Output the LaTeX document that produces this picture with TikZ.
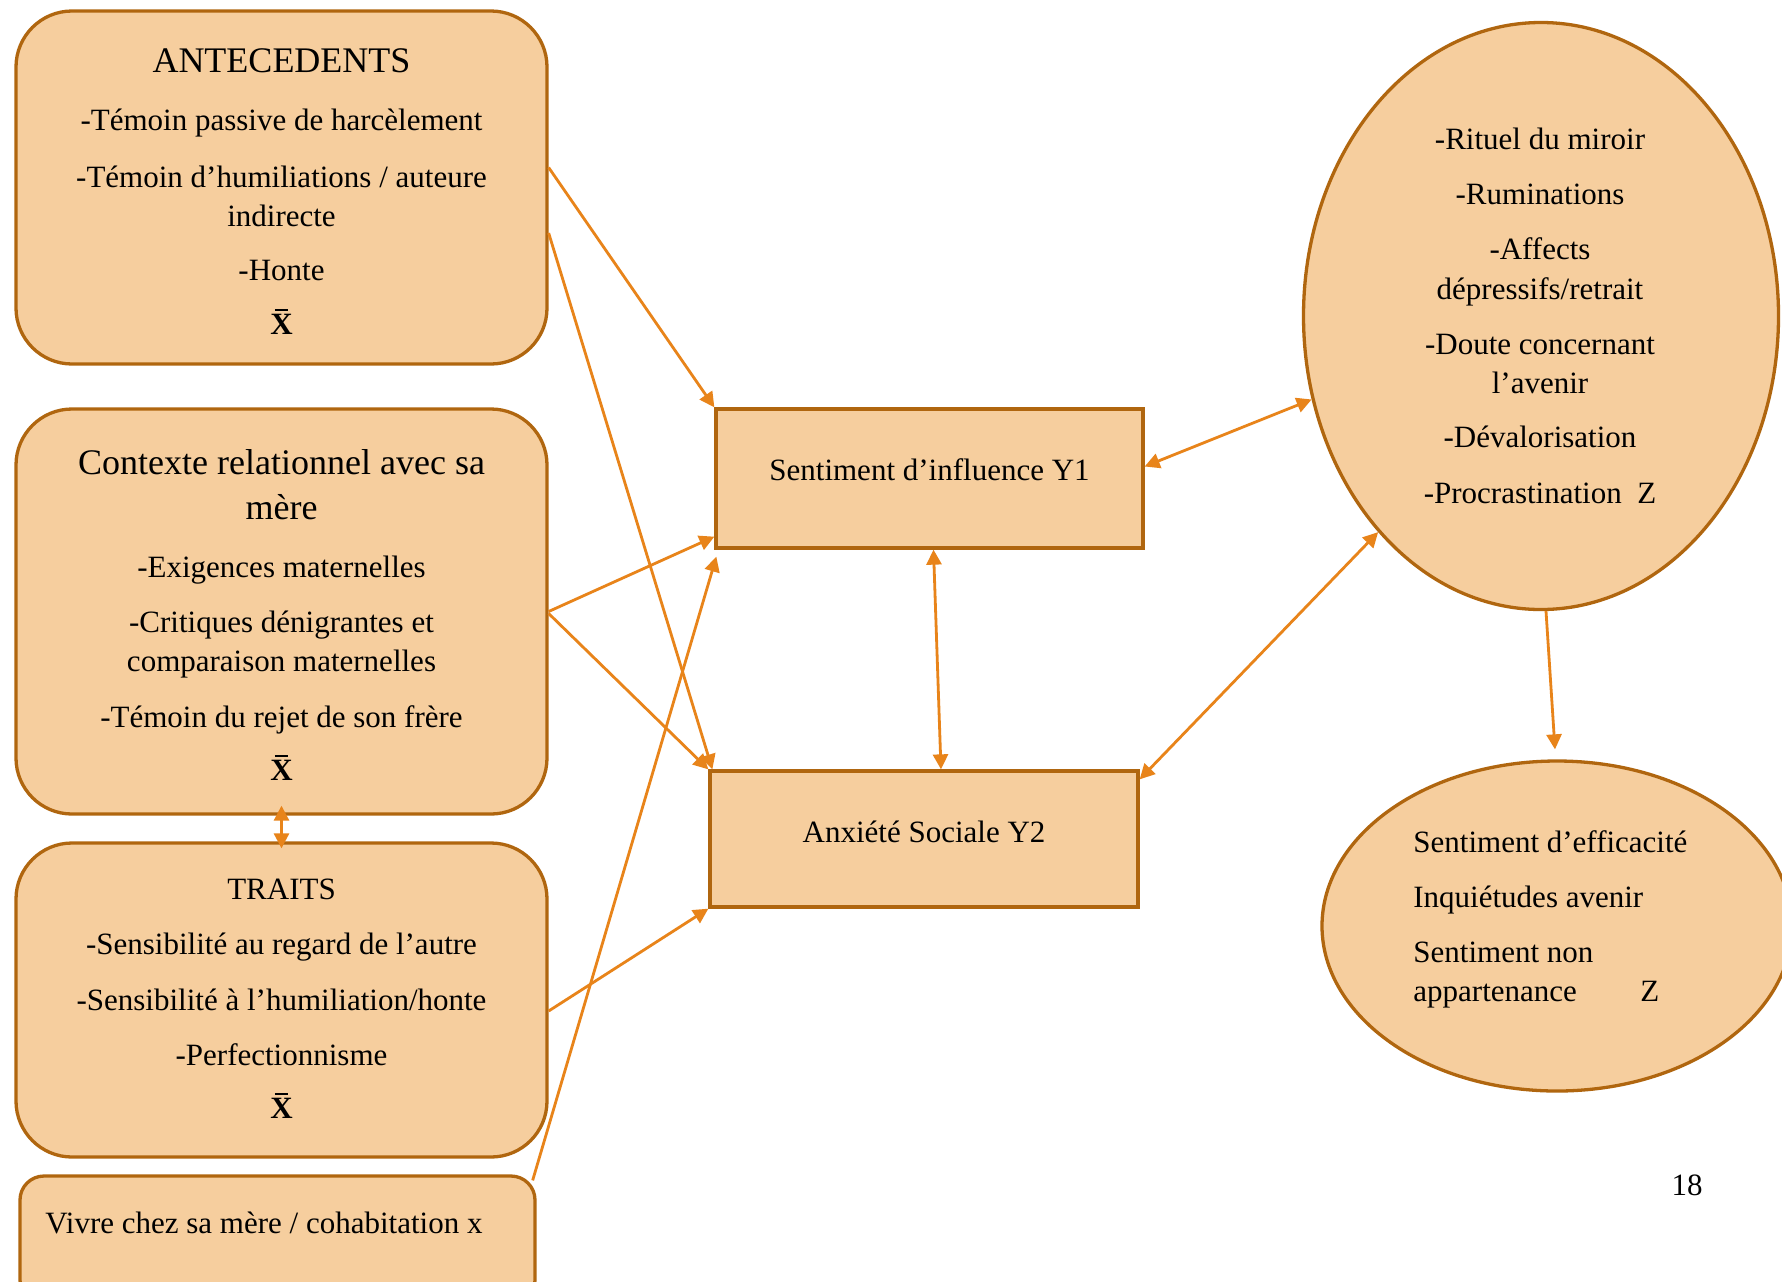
\documentclass[tikz,border=0pt]{standalone}
\usepackage{fontspec}
\setmainfont{Liberation Serif}
\usetikzlibrary{arrows.meta,shapes.geometric}
\definecolor{fillc}{HTML}{F6CE9E}
\definecolor{edgec}{HTML}{B0660F}
\definecolor{arrc}{HTML}{E8841A}
\newcommand\bodyf{\fontsize{15.5}{19.5}\selectfont}
\newcommand\titlef{\fontsize{18}{22.5}\selectfont}
\newcommand\xbar{\textbf{\ooalign{X\cr\hidewidth\rule[0.74em]{0.42em}{0.07em}\hidewidth\cr}}}
\begin{document}
\begin{tikzpicture}[x=0.5pt,y=-0.5pt,
  rbox/.style={draw=edgec,fill=fillc,line width=1.65pt,rounded corners=28pt,inner sep=0},
  sbox/.style={draw=edgec,fill=fillc,line width=1.65pt,inner sep=0},
  oval/.style={ellipse,draw=edgec,fill=fillc,line width=1.65pt,inner sep=0},
  txt/.style={anchor=base,inner sep=0,font=\bodyf},
  ltxt/.style={anchor=base west,inner sep=0,font=\bodyf},
  ttl/.style={anchor=base,inner sep=0,font=\titlef},
  conn/.style={draw=arrc,line width=1.4pt},
  >={Triangle[length=7.5pt,width=7.5pt]}]
\useasboundingbox (0,0) rectangle (1782,1281);
\clip (0,0) rectangle (1782,1281);
\fill[white] (0,0) rectangle (1782,1281);
% boxes
\node[rbox,minimum width=265.5pt,minimum height=176.5pt] (ante) at (281.5,187.5) {};
\node[rbox,minimum width=265.5pt,minimum height=202.5pt] (ctx) at (281.5,611.5) {};
\node[rbox,minimum width=265.5pt,minimum height=157pt] (traits) at (281.5,1000) {};
\node[rbox,rounded corners=12pt,minimum width=257.5pt,minimum height=64pt] (live) at (277.5,1240) {};
\node[sbox,minimum width=213.5pt,minimum height=69.5pt] (y1) at (929.5,478.5) {};
\node[sbox,minimum width=214pt,minimum height=68pt] (y2) at (924,839) {};
\node[oval,minimum width=237.5pt,minimum height=293.5pt] (ell1) at (1541,316) {};
\node[oval,minimum width=235pt,minimum height=165pt] (ell2) at (1557,926) {};
% texts: antecedents
\node[ttl] (a0) at (281.5,72) {ANTECEDENTS};
\node[txt] (a1) at (281.5,130) {-Témoin passive de harcèlement};
\node[txt] (a2) at (281.5,187) {-Témoin d’humiliations / auteure};
\node[txt] (a3) at (281.5,226) {indirecte};
\node[txt] (a4) at (281.5,280) {-Honte};
\node[txt] (a5) at (281.5,334) {\xbar};
% contexte
\node[ttl] (c0) at (281.5,474) {Contexte relationnel avec sa};
\node[ttl] (c1) at (281.5,519) {mère};
\node[txt] (c2) at (281.5,577) {-Exigences maternelles};
\node[txt] (c3) at (281.5,632) {-Critiques dénigrantes et};
\node[txt] (c4) at (281.5,671) {comparaison maternelles};
\node[txt] (c5) at (281.5,727) {-Témoin du rejet de son frère};
\node[txt] (c6) at (281.5,780) {\xbar};
% traits
\node[txt] (t0) at (281.5,899) {TRAITS};
\node[txt] (t1) at (281.5,954) {-Sensibilité au regard de l’autre};
\node[txt] (t2) at (281.5,1010) {-Sensibilité à l’humiliation/honte};
\node[txt] (t3) at (281.5,1065) {-Perfectionnisme};
\node[txt] (t4) at (281.5,1118) {\xbar};
% live
\node[ltxt] (l0) at (45,1233) {Vivre chez sa mère / cohabitation x};
% Y1 Y2
\node[txt] (y1t) at (929.5,480) {Sentiment d’influence Y1};
\node[txt] (y2t) at (924,842) {Anxiété Sociale Y2};
% ellipse 1
\node[txt] (e1) at (1540,149) {-Rituel du miroir};
\node[txt] (e2) at (1540,204) {-Ruminations};
\node[txt] (e3) at (1540,259) {-Affects};
\node[txt] (e4) at (1540,299) {dépressifs/retrait};
\node[txt] (e5) at (1540,354) {-Doute concernant};
\node[txt] (e6) at (1540,393) {l’avenir};
\node[txt] (e7) at (1540,447) {-Dévalorisation};
\node[txt] (e8) at (1540,503) {-Procrastination\ \ Z};
% ellipse 2
\node[ltxt] (f1) at (1413,852) {Sentiment d’efficacité};
\node[ltxt] (f2) at (1413,907) {Inquiétudes avenir};
\node[ltxt] (f3) at (1413,962) {Sentiment non};
\node[ltxt] (f4) at (1413,1001) {appartenance};
\node[ltxt] (f5) at (1640,1001) {Z};
% page number
\node[txt] (pg) at (1687,1195) {18};
% connectors
\draw[conn,->] ([yshift=10pt]ante.east) -- (y1.north west);
\draw[conn,->] ([yshift=-22.75pt]ante.east) -- ([xshift=2pt]y2.north west);
\draw[conn,->] (ctx.east) -- ([yshift=6.5pt]y1.south west);
\draw[conn,->] ([yshift=-1pt]ctx.east) -- (y2.north west);
\draw[conn,<->] ([yshift=5pt]ctx.south) -- ([yshift=-3.5pt]traits.north);
\draw[conn,->] ([yshift=-5.5pt]traits.east) -- (y2.south west);
\draw[conn,->] ([xshift=-2pt,yshift=-3pt]live.north east) -- ([xshift=1pt,yshift=-3.5pt]y1.south west);
\draw[conn,<->] ([yshift=6pt]y1.east) -- (ell1.200);
\draw[conn,<->] ([xshift=2pt]y1.south) -- ([xshift=8.5pt]y2.north);
\draw[conn,<->] ([yshift=-5pt]y2.north east) -- (ell1.233);
\draw[conn,->] ([xshift=2.5pt]ell1.south) -- ([xshift=-1pt,yshift=5pt]ell2.north);
\end{tikzpicture}
\end{document}
